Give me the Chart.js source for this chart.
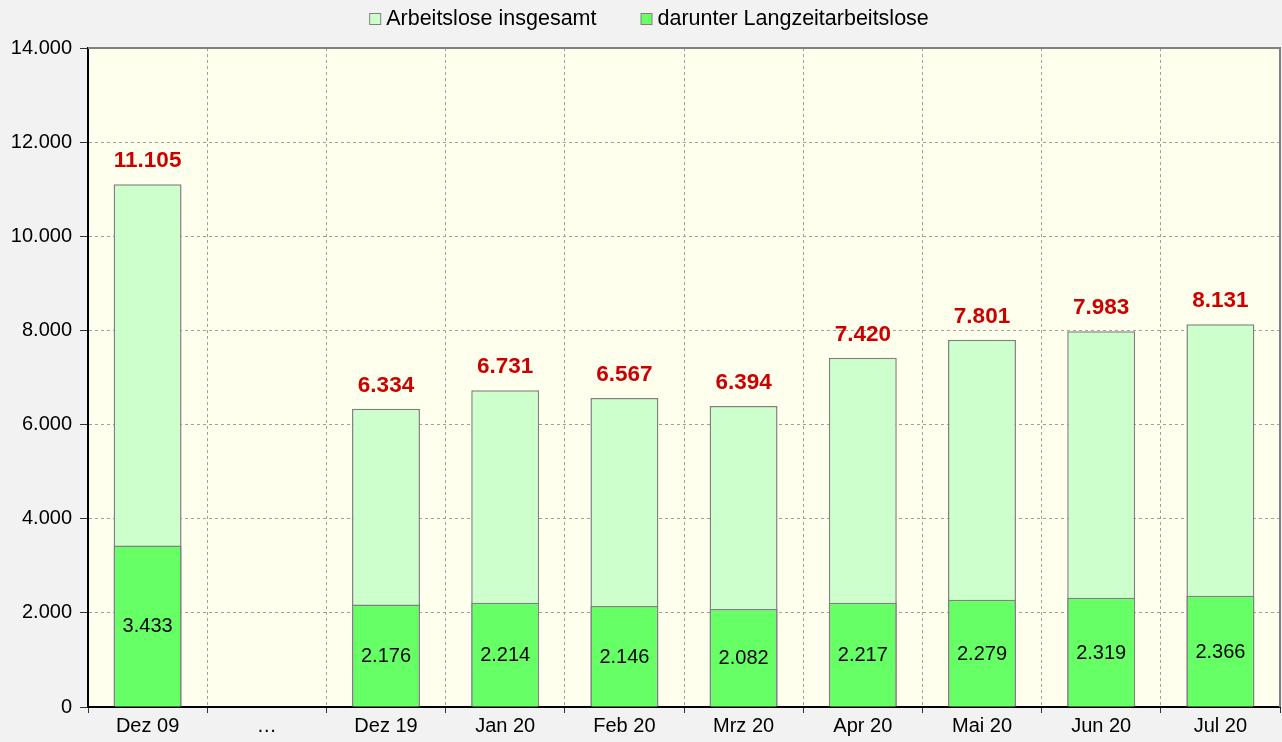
<!DOCTYPE html>
<html>
<head>
<meta charset="utf-8">
<script src="https://cdn.jsdelivr.net/npm/chart.js@4"></script>
<style>
  body { margin: 0; background: #f2f2f2; }
  #wrap { width: 1282px; height: 742px; }
</style>
</head>
<body>
<div id="wrap"><canvas id="chart"></canvas></div>
<script>
const months = ["Dez 09", "…", "Dez 19", "Jan 20", "Feb 20", "Mrz 20", "Apr 20", "Mai 20", "Jun 20", "Jul 20"];
const total = [11105, null, 6334, 6731, 6567, 6394, 7420, 7801, 7983, 8131];
const longTerm = [3433, null, 2176, 2214, 2146, 2082, 2217, 2279, 2319, 2366];

const FONT = "'Liberation Sans', Arial, sans-serif";

function fmt(v) {
    return String(v).replace(/\B(?=(\d{3})+(?!\d))/g, ".");
}

// page + plot background, frame on top/right
const bgPlugin = {
    id: "bg",
    beforeDraw(chart) {
        const { ctx, chartArea: a } = chart;
        ctx.save();
        ctx.fillStyle = "#f2f2f2";
        ctx.fillRect(0, 0, chart.width, chart.height);
        ctx.fillStyle = "#ffffee";
        ctx.fillRect(a.left, a.top, a.right - a.left, a.bottom - a.top);
        ctx.restore();
    },
    beforeDatasetsDraw(chart) {
        const { ctx, chartArea: a } = chart;
        ctx.save();
        ctx.strokeStyle = "#808080";
        ctx.lineWidth = 2;
        ctx.beginPath();
        ctx.moveTo(a.left, a.top);
        ctx.lineTo(a.right, a.top);
        ctx.lineTo(a.right, a.bottom);
        ctx.stroke();
        ctx.restore();
    }
};

// legend drawn by hand so box/text spacing matches
const legendPlugin = {
    id: "myLegend",
    afterDraw(chart) {
        const ctx = chart.ctx;
        const ds = chart.data.datasets;
        ctx.save();
        ctx.font = "21.5px " + FONT;
        ctx.textBaseline = "middle";
        const box = 11, gapText = 6, gapItem = 44;
        const widths = ds.map(d => box + gapText + ctx.measureText(d.label).width);
        const totalW = widths.reduce((s, w) => s + w, 0) + gapItem * (ds.length - 1);
        let x = chart.width / 2 + 8 - totalW / 2;
        const y = 19;
        ds.forEach((d, i) => {
            ctx.fillStyle = d.backgroundColor;
            ctx.fillRect(x + 0.5, y - 5.5, box, box);
            ctx.strokeStyle = "#808080";
            ctx.lineWidth = 1;
            ctx.strokeRect(x + 0.5, y - 5.5, box, box);
            ctx.fillStyle = "#000";
            ctx.fillText(d.label, x + box + gapText, y);
            x += widths[i] + gapItem;
        });
        ctx.restore();
    }
};

const labelPlugin = {
    id: "labels",
    afterDatasetsDraw(chart) {
        const ctx = chart.ctx;
        ctx.save();
        ctx.textAlign = "center";
        ctx.textBaseline = "middle";

        ctx.font = "bold 22.5px " + FONT;
        ctx.fillStyle = "#cc0000";
        chart.getDatasetMeta(0).data.forEach((bar, i) => {
            if (total[i] == null) return;
            ctx.fillText(fmt(total[i]), bar.x, bar.y - 23);
        });

        ctx.font = "20px " + FONT;
        ctx.fillStyle = "#000";
        chart.getDatasetMeta(1).data.forEach((bar, i) => {
            if (longTerm[i] == null) return;
            ctx.fillText(fmt(longTerm[i]), bar.x, (bar.y + bar.base) / 2 + 1);
        });
        ctx.restore();
    }
};

new Chart(document.getElementById("chart"), {
    type: "bar",
    data: {
        labels: months,
        datasets: [
            {
                label: "Arbeitslose insgesamt",
                data: total,
                backgroundColor: "#ccffcc",
                borderColor: "#808080",
                borderWidth: 1.5,
                order: 1
            },
            {
                label: "darunter Langzeitarbeitslose",
                data: longTerm,
                backgroundColor: "#66ff66",
                borderColor: "#808080",
                borderWidth: 1.5,
                order: 0
            }
        ]
    },
    options: {
        responsive: true,
        maintainAspectRatio: false,
        animation: false,
        events: [],
        layout: { padding: { left: 0, right: 2, top: 48, bottom: 0 } },
        datasets: {
            bar: { grouped: false, categoryPercentage: 1, barPercentage: 0.57 }
        },
        plugins: {
            tooltip: { enabled: false },
            legend: { display: false }
        },
        scales: {
            x: {
                grid: {
                    offset: true,
                    color: "#a0a0a0",
                    tickColor: "#333",
                    tickLength: 6,
                    tickBorderDash: []
                },
                border: { display: true, color: "#000", width: 2, dash: [3, 3] },
                ticks: { color: "#000", font: { family: FONT, size: 20 }, padding: 1 },
                afterFit: s => { s.height = 35; }
            },
            y: {
                min: 0,
                max: 14000,
                grid: {
                    color: "#a0a0a0",
                    tickColor: "#333",
                    tickLength: 8,
                    tickBorderDash: []
                },
                border: { display: true, color: "#000", width: 2, dash: [3, 3] },
                ticks: {
                    stepSize: 2000,
                    color: "#000",
                    font: { family: FONT, size: 20 },
                    padding: 8,
                    callback: v => fmt(v)
                },
                afterFit: s => { s.width = 88; }
            }
        }
    },
    plugins: [bgPlugin, labelPlugin, legendPlugin]
});
</script>
</body>
</html>
